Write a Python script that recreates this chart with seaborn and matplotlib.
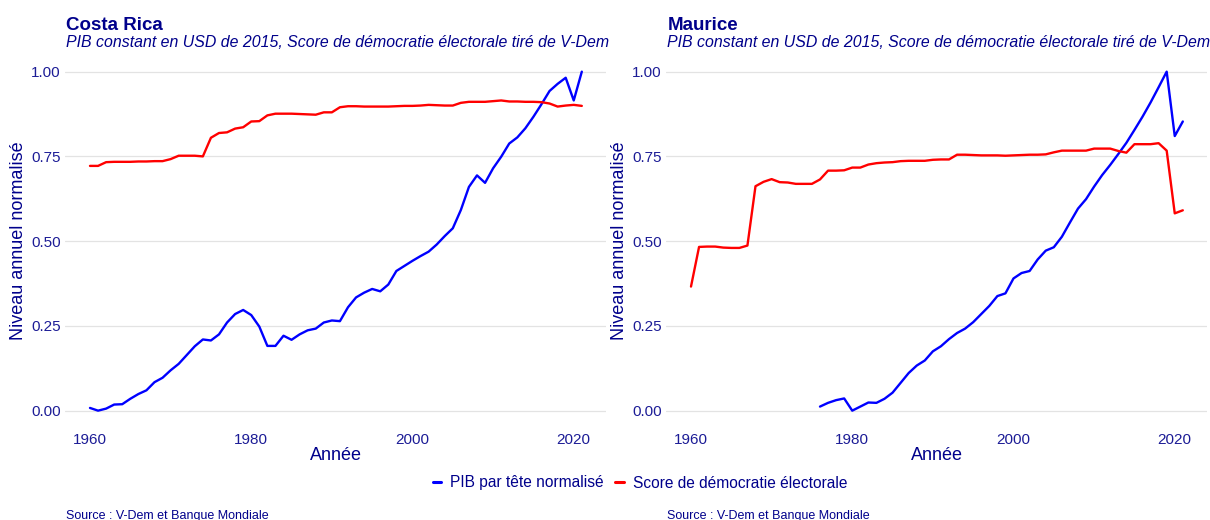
import numpy as np
import pandas as pd
import matplotlib
matplotlib.use("Agg")
import matplotlib.pyplot as plt
import seaborn as sns

# ---------------- data ----------------
years_cr = list(range(1960, 2022))
pib_cr = [0.008, 0.000, 0.006, 0.018, 0.019, 0.035, 0.049, 0.060, 0.084, 0.097,
          0.119, 0.138, 0.164, 0.190, 0.210, 0.207, 0.225, 0.260, 0.285, 0.297,
          0.282, 0.248, 0.191, 0.191, 0.221, 0.209, 0.225, 0.237, 0.242, 0.260,
          0.266, 0.264, 0.305, 0.334, 0.348, 0.359, 0.352, 0.372, 0.412, 0.427,
          0.442, 0.456, 0.469, 0.490, 0.515, 0.538, 0.592, 0.660, 0.694, 0.672,
          0.715, 0.749, 0.788, 0.806, 0.833, 0.867, 0.904, 0.943, 0.964, 0.982,
          0.915, 1.000]
demo_cr = [0.722, 0.722, 0.733, 0.734, 0.734, 0.734, 0.735, 0.735, 0.736, 0.736,
           0.742, 0.752, 0.752, 0.752, 0.750, 0.805, 0.819, 0.821, 0.832, 0.836,
           0.853, 0.854, 0.871, 0.876, 0.876, 0.876, 0.875, 0.874, 0.873, 0.880,
           0.880, 0.895, 0.898, 0.898, 0.897, 0.897, 0.897, 0.897, 0.898, 0.899,
           0.899, 0.900, 0.902, 0.901, 0.900, 0.900, 0.908, 0.911, 0.911, 0.911,
           0.913, 0.915, 0.912, 0.912, 0.911, 0.911, 0.910, 0.906, 0.897, 0.900,
           0.902, 0.899]

years_mu_pib = list(range(1976, 2022))
pib_mu = [0.012, 0.023, 0.031, 0.036, 0.000, 0.012, 0.024, 0.023, 0.035, 0.053,
          0.082, 0.111, 0.133, 0.148, 0.175, 0.190, 0.211, 0.229, 0.242, 0.261,
          0.285, 0.309, 0.338, 0.346, 0.390, 0.406, 0.412, 0.446, 0.472, 0.482,
          0.513, 0.555, 0.596, 0.624, 0.661, 0.695, 0.725, 0.757, 0.790, 0.828,
          0.867, 0.909, 0.954, 1.000, 0.810, 0.853]
years_mu_demo = list(range(1960, 2022))
demo_mu = [0.366, 0.483, 0.484, 0.484, 0.481, 0.480, 0.480, 0.487, 0.662, 0.675,
           0.683, 0.674, 0.673, 0.669, 0.669, 0.669, 0.682, 0.708, 0.708, 0.709,
           0.717, 0.717, 0.726, 0.730, 0.732, 0.733, 0.736, 0.737, 0.737, 0.737,
           0.740, 0.741, 0.741, 0.755, 0.755, 0.754, 0.753, 0.753, 0.753, 0.752,
           0.753, 0.754, 0.755, 0.755, 0.756, 0.762, 0.767, 0.767, 0.767, 0.767,
           0.773, 0.773, 0.773, 0.766, 0.761, 0.786, 0.786, 0.786, 0.789, 0.767,
           0.582, 0.591]

series_names = ["PIB par tête normalisé", "Score de démocratie électorale"]
countries = ["Costa Rica", "Maurice"]
subtitle = "PIB constant en USD de 2015, Score de démocratie électorale tiré de V-Dem"
source = "Source : V-Dem et Banque Mondiale"
xticks = [1960, 1980, 2000, 2020]
yticks = [0.0, 0.25, 0.5, 0.75, 1.0]


def make_df(y_pib, v_pib, y_demo, v_demo):
    a = pd.DataFrame({"Année": y_pib, "val": v_pib, "serie": series_names[0]})
    b = pd.DataFrame({"Année": y_demo, "val": v_demo, "serie": series_names[1]})
    return pd.concat([a, b], ignore_index=True)


dfs = [make_df(years_cr, pib_cr, years_cr, demo_cr),
       make_df(years_mu_pib, pib_mu, years_mu_demo, demo_mu)]

# ---------------- style ----------------
sns.set_theme(style="white")
plt.rcParams["font.family"] = ["Liberation Sans", "DejaVu Sans"]
TXT = "#00008B"
TICK_TXT = "#1c1c96"
palette = {series_names[0]: "#0000FF", series_names[1]: "#FF0000"}

W, H = 1210, 520
fig = plt.figure(figsize=(W / 100, H / 100), dpi=100)
fig.patch.set_facecolor("white")

ax_left_px = [65.4, 666.4]
ax_w_px = 541.0
ax_top_px, ax_bot_px = 54.7, 427.6

handles = labels = None
for i, (ax_x, df, name) in enumerate(zip(ax_left_px, dfs, countries)):
    ax = fig.add_axes([ax_x / W, 1 - ax_bot_px / H, ax_w_px / W,
                       (ax_bot_px - ax_top_px) / H])
    sns.lineplot(data=df, x="Année", y="val", hue="serie", palette=palette,
                 hue_order=series_names, linewidth=1.7, ax=ax,
                 legend=(i == 0), estimator=None)
    if i == 0:
        handles, labels = ax.get_legend_handles_labels()
        ax.get_legend().remove()
    ax.set_xlim(1956.95, 2024.05)
    ax.set_ylim(-0.05, 1.05)
    ax.set_xticks(xticks)
    ax.set_yticks(yticks)
    ax.set_yticklabels([f"{v:.2f}" for v in yticks])
    for s in ax.spines.values():
        s.set_visible(False)
    ax.grid(False)
    ax.yaxis.grid(True, color="#e3e3e3", linewidth=0.9)
    ax.set_axisbelow(True)
    ax.tick_params(axis="y", length=2.5, width=0.6, color="#999999",
                   labelsize=11, labelcolor=TICK_TXT, pad=1)
    ax.tick_params(axis="x", length=0, labelsize=11, labelcolor=TICK_TXT, pad=4)
    ax.set_xlabel("Année", fontsize=13, color=TXT)
    ax.set_ylabel("Niveau annuel normalisé", fontsize=13, color=TXT)
    ax.yaxis.set_label_coords(-0.086, 0.5)
    ax.xaxis.set_label_coords(0.5, -0.075)
    ax.xaxis.label.set_va("center")
    ax.yaxis.label.set_va("center")

    fig.text((ax_x + 1) / W, 1 - 30 / H, name, fontsize=13.5, fontweight="bold",
             color=TXT, ha="left", va="baseline")
    fig.text((ax_x + 1) / W, 1 - 47 / H, subtitle, fontsize=11.4, style="italic",
             color=TXT, ha="left", va="baseline")
    fig.text((ax_x + 1) / W, 1 - 519 / H, source, fontsize=9,
             color=TXT, ha="left", va="baseline")

leg = fig.legend(handles, labels, loc="center", bbox_to_anchor=(640 / W, 1 - 483 / H),
                 ncol=2, frameon=False, fontsize=11.2, handlelength=0.55,
                 handletextpad=0.6, columnspacing=0.7)
for t in leg.get_texts():
    t.set_color(TXT)
for l in leg.get_lines():
    l.set_linewidth(2.2)

fig.savefig("out.png", dpi=100, facecolor="white")
